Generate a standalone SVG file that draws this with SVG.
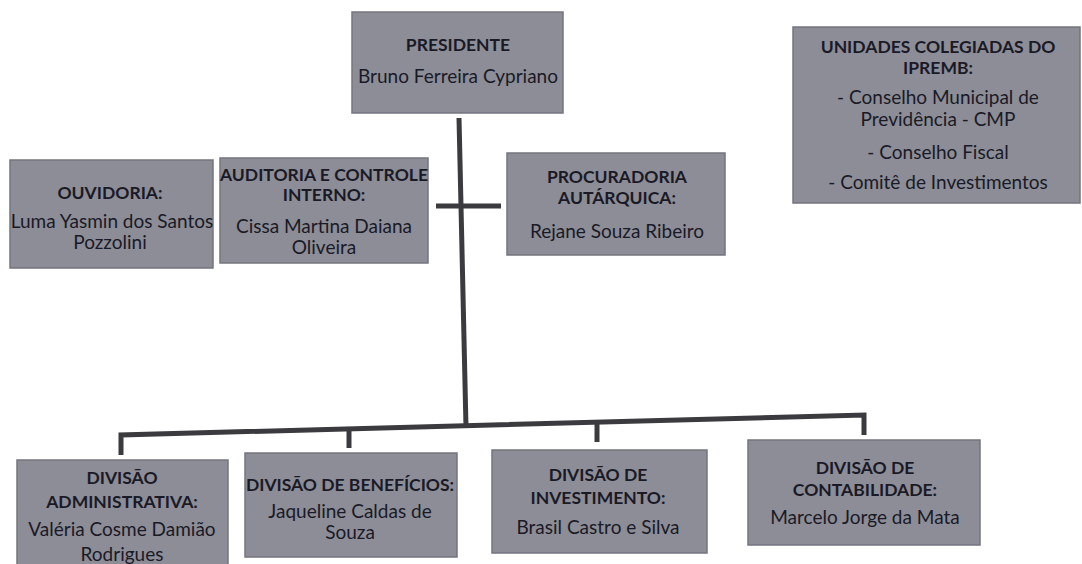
<svg xmlns="http://www.w3.org/2000/svg" width="1082" height="564" viewBox="0 0 1082 564">
<style>
.box{fill:#8c8d97;stroke:#74757e;stroke-width:1.5}
.h{font-family:Lato,"Open Sans","Liberation Sans",sans-serif;font-weight:bold;font-size:17.5px;fill:#1a1a26;text-anchor:middle}
.t{font-family:Lato,"Open Sans","Liberation Sans",sans-serif;font-size:19px;fill:#1a1a26;text-anchor:middle}
.ln{stroke:#3b3b3f;stroke-width:5;fill:none;stroke-linecap:butt;stroke-linejoin:miter}
</style>
<rect width="1082" height="564" fill="#ffffff"/>
<g id="connectors">
<polyline class="ln" points="459,118 466,427"/>
<line class="ln" x1="436" y1="206" x2="501" y2="206"/>
<polyline class="ln" points="121,455 121,435 864,415 864,435"/>
<line class="ln" x1="349" y1="430" x2="349" y2="448"/>
<line class="ln" x1="597" y1="424" x2="597" y2="442"/>
</g>
<g id="presidente">
<rect class="box" x="352" y="12" width="211" height="101"/>
<text class="h" x="458" y="51">PRESIDENTE</text>
<text class="t" x="458" y="83">Bruno Ferreira Cypriano</text>
</g>
<g id="unidades">
<rect class="box" x="793" y="27" width="287" height="176"/>
<text class="h" x="938" y="53">UNIDADES COLEGIADAS DO</text>
<text class="h" x="938" y="74">IPREMB:</text>
<text class="t" x="938" y="104">- Conselho Municipal de</text>
<text class="t" x="938" y="126">Previdência - CMP</text>
<text class="t" x="938" y="159">- Conselho Fiscal</text>
<text class="t" x="938" y="189">- Comitê de Investimentos</text>
</g>
<g id="ouvidoria">
<rect class="box" x="10" y="160" width="203" height="108"/>
<text class="h" x="110" y="199">OUVIDORIA:</text>
<text class="t" x="112" y="228">Luma Yasmin dos Santos</text>
<text class="t" x="110" y="249">Pozzolini</text>
</g>
<g id="auditoria">
<rect class="box" x="220" y="158" width="208" height="105"/>
<text class="h" x="324" y="181">AUDITORIA E CONTROLE</text>
<text class="h" x="324" y="201">INTERNO:</text>
<text class="t" x="324" y="233">Cissa Martina Daiana</text>
<text class="t" x="324" y="254">Oliveira</text>
</g>
<g id="procuradoria">
<rect class="box" x="507" y="153" width="218" height="102"/>
<text class="h" x="617" y="183">PROCURADORIA</text>
<text class="h" x="617" y="204">AUTÁRQUICA:</text>
<text class="t" x="617" y="238">Rejane Souza Ribeiro</text>
</g>
<g id="div-administrativa">
<rect class="box" x="17" y="460" width="211" height="110"/>
<text class="h" x="122" y="484">DIVISÃO</text>
<text class="h" x="122" y="508">ADMINISTRATIVA:</text>
<text class="t" x="122" y="536">Valéria Cosme Damião</text>
<text class="t" x="122" y="561">Rodrigues</text>
</g>
<g id="div-beneficios">
<rect class="box" x="245" y="453" width="212" height="104"/>
<text class="h" x="350" y="491">DIVISÃO DE BENEFÍCIOS:</text>
<text class="t" x="350" y="518">Jaqueline Caldas de</text>
<text class="t" x="350" y="539">Souza</text>
</g>
<g id="div-investimento">
<rect class="box" x="492" y="450" width="215" height="103"/>
<text class="h" x="598" y="481">DIVISÃO DE</text>
<text class="h" x="598" y="504">INVESTIMENTO:</text>
<text class="t" x="598" y="534">Brasil Castro e Silva</text>
</g>
<g id="div-contabilidade">
<rect class="box" x="748" y="440" width="232" height="105"/>
<text class="h" x="865" y="474">DIVISÃO DE</text>
<text class="h" x="865" y="496">CONTABILIDADE:</text>
<text class="t" x="865" y="524">Marcelo Jorge da Mata</text>
</g>
</svg>
